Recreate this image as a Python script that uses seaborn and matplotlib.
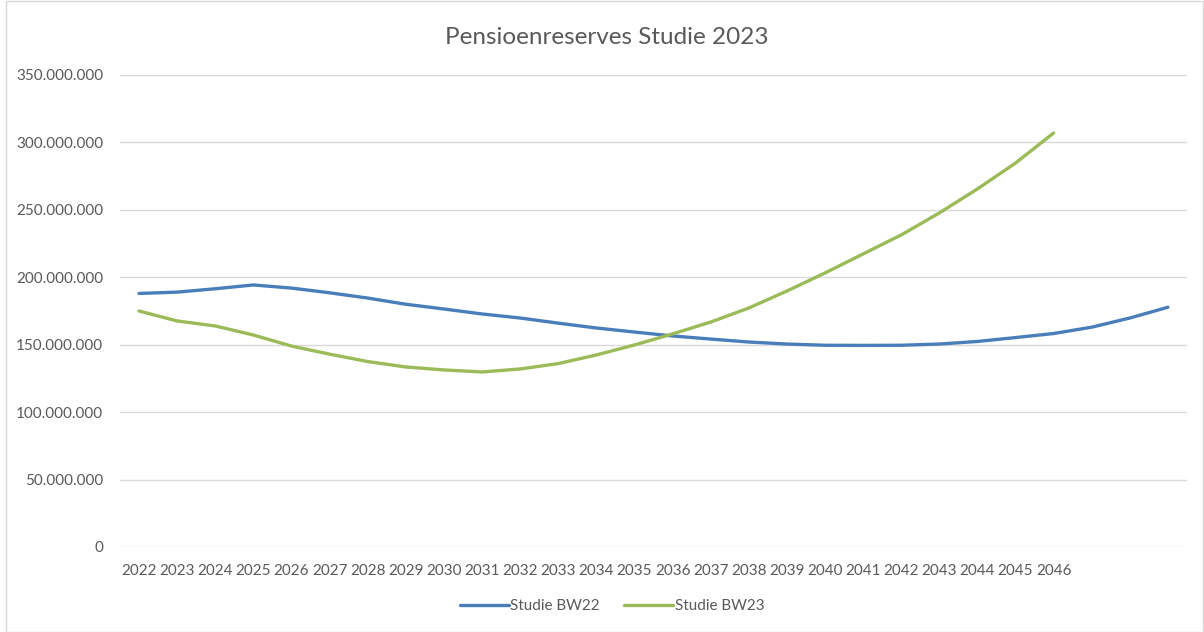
import pandas as pd
import matplotlib.pyplot as plt
import seaborn as sns
from matplotlib.ticker import FuncFormatter
from matplotlib.patches import Rectangle

# values (millions)
years_bw22 = list(range(2022, 2050))
bw22 = [188, 189, 191.5, 194.3, 192, 188.5, 184.6, 180, 176.5, 172.8,
        169.8, 166, 162.4, 159.4, 156.5, 154.2, 152, 150.5, 149.6, 149.5,
        149.6, 150.5, 152.4, 155.3, 158.3, 163, 169.8, 177.8]
years_bw23 = list(range(2022, 2047))
bw23 = [175, 167.6, 163.9, 157.2, 149, 143, 137.5, 133.5, 131.3, 129.8,
        132, 136, 142.4, 149.8, 158, 166.8, 177.2, 189.8, 203.2, 217.3,
        231.4, 247.7, 265.5, 284.7, 307]
tick_years = list(range(2022, 2047))

df = pd.concat([
    pd.DataFrame({'jaar': years_bw22, 'waarde': [v * 1e6 for v in bw22], 'reeks': 'Studie BW22'}),
    pd.DataFrame({'jaar': years_bw23, 'waarde': [v * 1e6 for v in bw23], 'reeks': 'Studie BW23'}),
])

sns.set_style("white")
plt.rcParams['font.family'] = ['Lato', 'DejaVu Sans']

fig = plt.figure(figsize=(12.04, 6.32), dpi=100)
ax = fig.add_axes([120 / 1204, 85 / 632, 1067 / 1204, 472 / 632])

g = sns.lineplot(data=df, x='jaar', y='waarde', hue='reeks', ax=ax,
                 palette={'Studie BW22': '#4a7ebb', 'Studie BW23': '#9bbb59'},
                 linewidth=2.4, legend=False)

g.set_xlim(2021.5, 2049.5)
g.set_ylim(0, 350e6)
g.set_yticks([i * 50e6 for i in range(8)])
g.yaxis.set_major_formatter(FuncFormatter(lambda v, p: f"{int(v):,}".replace(',', '.')))
g.set_xticks(tick_years)
g.set_xticklabels([str(y) for y in tick_years])
g.set(xlabel='', ylabel='')
g.grid(axis='y', color='#d9d9d9', linewidth=1)
g.set_axisbelow(True)
for s in g.spines.values():
    s.set_visible(False)
g.tick_params(axis='both', length=0, labelsize=11, colors='#595959')
g.tick_params(axis='x', pad=12)
g.tick_params(axis='y', pad=12)

fig.text(607 / 1204, 1 - 38 / 632, 'Pensioenreserves Studie 2023', ha='center', va='center',
         fontsize=17.5, color='#595959')

handles = [plt.Line2D([], [], color='#4a7ebb', linewidth=2.4),
           plt.Line2D([], [], color='#9bbb59', linewidth=2.4)]
fig.legend(handles, ['Studie BW22', 'Studie BW23'], loc='center', ncol=2,
           bbox_to_anchor=(612 / 1204, 1 - 606 / 632), frameon=False,
           fontsize=11, labelcolor='#595959', handlelength=3.2,
           handletextpad=0.1, columnspacing=1.6)

fig.patches.append(Rectangle((6 / 1204, 0), 1 - 7 / 1204, 1 - 1 / 632, transform=fig.transFigure,
                             fill=False, edgecolor='#d9d9d9', linewidth=1))

plt.savefig("out.png", dpi=100)
